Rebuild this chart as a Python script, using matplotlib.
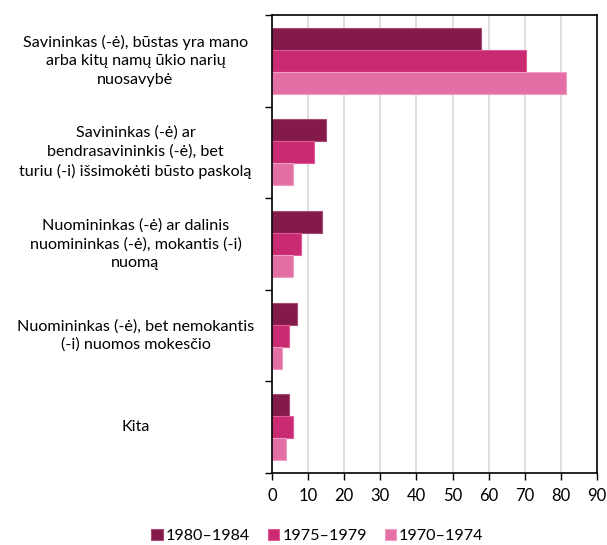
import numpy as np
import matplotlib
matplotlib.use("Agg")
import matplotlib.pyplot as plt
import matplotlib.transforms as mtransforms

plt.rcParams['font.family'] = ['Lato', 'DejaVu Sans']

categories = [
    "Savininkas (-ė), būstas yra mano\narba kitų namų ūkio narių\nnuosavybė",
    "Savininkas (-ė) ar\nbendrasavininkis (-ė), bet\nturiu (-i) išsimokėti būsto paskolą",
    "Nuomininkas (-ė) ar dalinis\nnuomininkas (-ė), mokantis (-i)\nnuomą",
    "Nuomininkas (-ė), bet nemokantis\n(-i) nuomos mokesčio",
    "Kita",
]
series_names = ["1980–1984", "1975–1979", "1970–1974"]
v_1980 = [58.0, 15.0, 13.8, 6.8, 4.7]
v_1975 = [70.2, 11.7, 8.0, 4.7, 5.9]
v_1970 = [81.3, 5.9, 5.9, 2.7, 3.9]
values = [v_1980, v_1975, v_1970]
colors = ["#831a4a", "#c92a72", "#e36fa5"]
edges = ["#a84a75", "#e05a95", "#f09cc2"]

fig = plt.figure(figsize=(6.07, 5.45), dpi=100)
ax = fig.add_axes([272/607, 1 - 473/545, 325/607, 458/545])

n = len(categories)
y = np.arange(n)
h = 0.24
for i, (vals, c, ec) in enumerate(zip(values, colors, edges)):
    ax.barh(y + (i - 1) * h, vals, height=h, color=c, edgecolor=ec,
            linewidth=0.8, label=series_names[i], zorder=3)

ax.set_ylim(n - 0.5, -0.5)
ax.set_xlim(0, 90)
ax.set_xticks(np.arange(0, 91, 10))
ax.grid(axis='x', color='#d9d9d9', linewidth=1.2, zorder=0)
ax.set_yticks(np.arange(-0.5, n, 1))
ax.set_yticklabels([])
ax.tick_params(axis='y', length=5, width=1, direction='out')
ax.tick_params(axis='x', length=5, width=1, direction='out', labelsize=12,
               colors='black', pad=6)
for s in ax.spines.values():
    s.set_linewidth(1.2)
    s.set_color('black')
    s.set_zorder(5)

trans = mtransforms.blended_transform_factory(ax.transAxes, ax.transData)
for yi, lab in zip(y, categories):
    ax.text(-0.42, yi, lab, transform=trans, ha='center', va='center',
            multialignment='center', fontsize=11.6, linespacing=1.4)

ax.legend(loc='upper center', bbox_to_anchor=(0.14, -0.09), ncol=3,
          frameon=False, fontsize=11.6, handlelength=0.7, handleheight=0.7,
          handletextpad=0.2, columnspacing=1.1)

fig.savefig("out.png", dpi=100)
